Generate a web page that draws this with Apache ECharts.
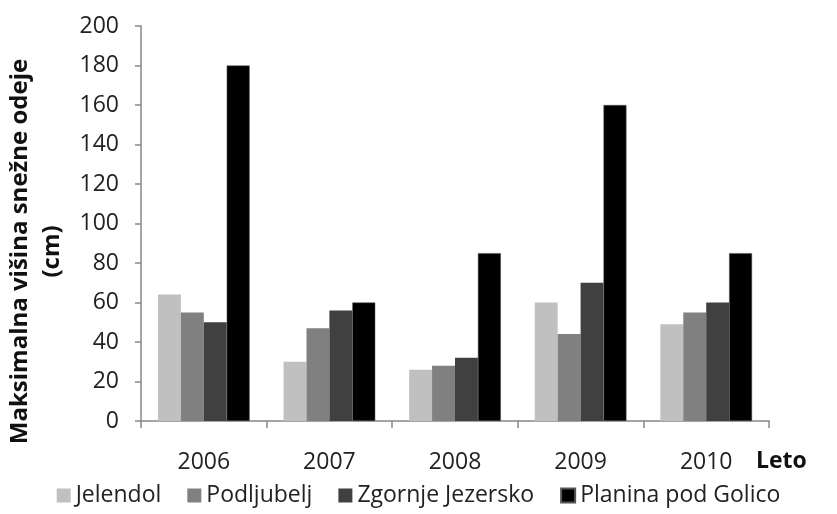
<!DOCTYPE html>
<html>
<head>
<meta charset="utf-8">
<script src="https://cdn.jsdelivr.net/npm/echarts@6/dist/echarts.min.js"></script>
<style>html,body{margin:0;padding:0;background:#fff;}#c{width:837px;height:514px;}</style>
</head>
<body>
<div id="c"></div>
<script>
const categories = ['2006', '2007', '2008', '2009', '2010'];
const seriesNames = ['Jelendol', 'Podljubelj', 'Zgornje Jezersko', 'Planina pod Golico'];
const jelendol = [64, 30, 26, 60, 49];
const podljubelj = [55, 47, 28, 44, 55];
const zgornjeJezersko = [50, 56, 32, 70, 60];
const planinaPodGolico = [180, 60, 85, 160, 85];
const yTicks = [0, 20, 40, 60, 80, 100, 120, 140, 160, 180, 200];
const colors = ['#c0c0c0', '#808080', '#404040', '#000000'];

const values = [jelendol, podljubelj, zgornjeJezersko, planinaPodGolico];
const FONT = '"Open Sans", sans-serif';
const chart = echarts.init(document.getElementById('c'), null, {renderer: 'canvas'});
chart.setOption({
  animation: false,
  backgroundColor: '#ffffff',
  grid: {left: 141, right: 68, top: 26, bottom: 93, containLabel: false, outerBoundsMode: 'none'},
  legend: {
    data: seriesNames,
    bottom: 2,
    left: 'center',
    icon: 'rect',
    itemWidth: 14,
    itemHeight: 14,
    itemGap: 26,
    textStyle: {fontFamily: FONT, fontSize: 23, color: '#222'}
  },
  xAxis: {
    type: 'category',
    data: categories,
    axisLine: {lineStyle: {color: '#888', width: 1.5}},
    axisTick: {show: true, alignWithLabel: false, length: 7, lineStyle: {color: '#888', width: 1.5}},
    axisLabel: {fontFamily: FONT, fontSize: 23, color: '#222', margin: 30}
  },
  yAxis: {
    type: 'value',
    min: yTicks[0],
    max: yTicks[yTicks.length - 1],
    interval: 20,
    name: 'Maksimalna višina snežne odeje\n(cm)',
    nameLocation: 'middle',
    nameGap: 70,
    nameRotate: 90,
    nameTextStyle: {fontFamily: FONT, fontSize: 24, fontWeight: 'bold', color: '#111', lineHeight: 32, padding: [0, 56, 0, 0]},
    axisLine: {show: true, lineStyle: {color: '#888', width: 1.5}},
    axisTick: {show: true, length: 6, lineStyle: {color: '#888', width: 1.5}},
    splitLine: {show: false},
    axisLabel: {fontFamily: FONT, fontSize: 23, color: '#222', margin: 22}
  },
  graphic: [{
    type: 'text',
    left: 756,
    top: 450,
    style: {text: 'Leto', font: 'bold 23px "Open Sans", sans-serif', fill: '#111'}
  }],
  series: seriesNames.map((n, i) => ({
    name: n,
    type: 'bar',
    data: values[i],
    barGap: '0%',
    barCategoryGap: '27%',
    itemStyle: {color: colors[i], borderColor: i === 3 ? '#555' : colors[i], borderWidth: i === 3 ? 0.5 : 0}
  }))
});
</script>
</body>
</html>
